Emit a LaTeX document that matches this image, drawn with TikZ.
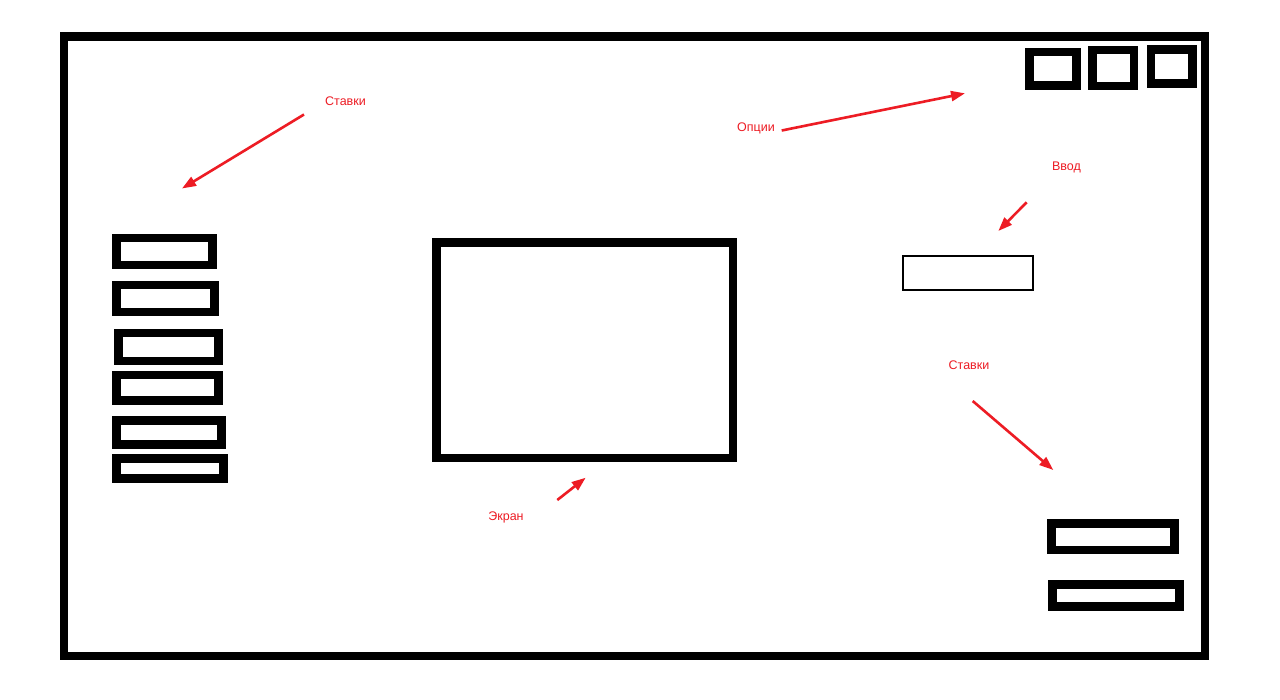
\documentclass[tikz,border=0pt]{standalone}
\usepackage{fontspec}
\setmainfont{Liberation Sans}
\usetikzlibrary{arrows.meta}
\definecolor{pred}{RGB}{237,28,36}
\begin{document}
\begin{tikzpicture}[x=1pt,y=-1pt,
  thickbox/.style={draw=black,line width=8.7pt},
  thinbox/.style={draw=black,line width=2pt},
  lbl/.style={text=pred,inner sep=0pt,font=\fontsize{12.5}{14}\selectfont},
  redarrow/.style={draw=pred,line width=2.6pt,-{Triangle[length=14pt,width=10pt]}}]
\useasboundingbox[fill=white] (0,0) rectangle (1280,699);
% outer frame
\draw[draw=black,line width=8.6pt] (64,36.5) rectangle (1205,656);
% top-right option boxes
\draw[thickbox] (1029.5,52) rectangle (1076.5,85.5);
\draw[thickbox] (1092.5,50) rectangle (1134,86);
\draw[thickbox] (1151,49.5) rectangle (1192.5,83.5);
% left stack
\draw[thickbox] (116.7,238) rectangle (212.5,265);
\draw[thickbox] (116.7,285) rectangle (214.2,312);
\draw[thickbox] (118.3,333) rectangle (218.2,361);
\draw[thickbox] (116.7,375) rectangle (218.2,400.7);
\draw[thickbox] (116.7,420.5) rectangle (221.7,444.2);
\draw[thickbox] (116.7,458.3) rectangle (223.3,478.3);
% screen
\draw[thickbox] (436.3,242.8) rectangle (733,458);
% input
\draw[thinbox] (903.3,256.3) rectangle (1033,289.7);
% right bottom boxes
\draw[thickbox] (1051.2,523.3) rectangle (1174.2,550);
\draw[thickbox] (1052.8,584.5) rectangle (1179.8,606.5);
% labels
\node[lbl] (stl) at (345.5,101.5) {Ставки};
\node[lbl] (opt) at (756,128.8) {Опции};
\node[lbl] (inp) at (1066.5,167.2) {Ввод};
\node[lbl] (str) at (969,364.8) {Ставки};
\node[lbl] (scr) at (506,517.8) {Экран};
% arrow endpoints
\coordinate (a1s) at (304,114.5);
\coordinate (a1e) at (182,188.5);
\coordinate (a2s) at (781.7,130.5);
\coordinate (a2e) at (965,93.3);
\coordinate (a3s) at (1026.7,202.3);
\coordinate (a3e) at (998.3,231);
\coordinate (a4s) at (972.7,401);
\coordinate (a4e) at (1053.3,470);
\coordinate (a5s) at (557.3,500);
\coordinate (a5e) at (585.7,477.7);
\draw[redarrow] (a1s) -- (a1e);
\draw[redarrow] (a2s) -- (a2e);
\draw[redarrow] (a3s) -- (a3e);
\draw[redarrow] (a4s) -- (a4e);
\draw[redarrow] (a5s) -- (a5e);
\end{tikzpicture}
\end{document}
